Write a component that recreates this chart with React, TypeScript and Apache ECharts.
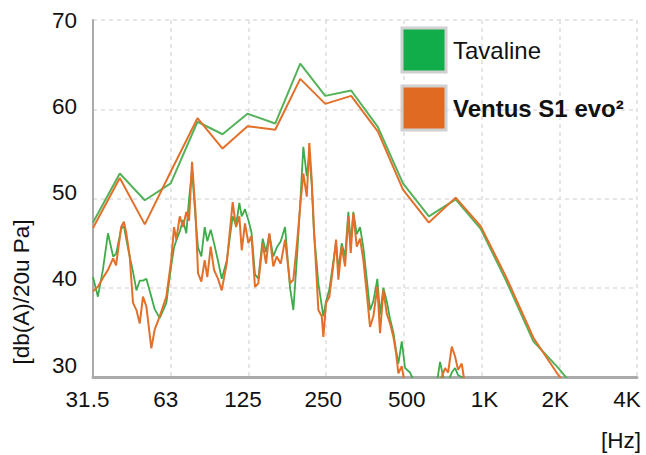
import React, { useEffect, useRef } from "react";
import * as echarts from "echarts";

// 1/3-octave band levels
const bandFreqs = [31.5, 40, 50, 63, 80, 100, 125, 160, 200, 250, 315, 400, 500, 630, 800, 1000, 1250, 1600, 2000, 2500];
const bandTavaline = [47.3, 52.8, 49.8, 51.7, 58.6, 57.2, 59.5, 58.4, 65.1, 61.5, 62.1, 58.0, 51.7, 48.0, 49.9, 46.6, 40.9, 34.0, 31.0, 27.6];
const bandVentus = [46.7, 52.3, 47.1, 53.0, 59.0, 55.6, 58.1, 57.7, 63.4, 60.6, 61.5, 57.5, 51.0, 47.3, 50.1, 46.9, 41.3, 34.4, 30.2, 26.8];

// narrow-band spectrum
const narrowFreqs = [
  31.5, 32.9, 34.4, 36.0, 37.7, 38.7, 40.5, 41.5, 42.4, 43.7,
  45.0, 46.4, 47.8, 49.2, 50.7, 53.0, 54.6, 57.1, 60.6, 63.3,
  64.9, 66.2, 68.3, 70.3, 72.4, 74.2, 76.2, 78.5, 80.4, 82.8,
  85.3, 87.3, 90.0, 92.7, 96.1, 99.3, 103.8, 109.5, 112.8, 116.2,
  118.7, 122.2, 125.9, 129.5, 133.6, 137.6, 143.1, 147.4, 151.8, 157.3,
  162.2, 168.1, 174.7, 182.6, 188.1, 194.9, 200.9, 205.6, 212.0, 216.9,
  221.6, 226.2, 231.7, 235.1, 242.3, 245.8, 251.8, 259.3, 267.3, 275.3,
  281.0, 289.6, 298.3, 307.2, 313.8, 321.2, 331.1, 341.0, 351.2, 362.0,
  372.8, 384.0, 397.9, 407.6, 419.8, 432.7, 445.6, 459.0, 470.1, 479.9,
  494.7, 509.5, 532.7, 582.4, 665.8, 696.1, 727.9, 747.6, 772.7, 795.8,
  817.4, 844.8, 870.0, 909.7,
];
const narrowTavaline = [
  41.2, 39.0, 42.0, 46.1, 43.5, 43.8, 46.6, 46.9, 45.4, 43.5,
  41.8, 39.7, 40.8, 40.8, 41.0, 39.0, 37.6, 36.6, 38.3, 42.5,
  44.5, 45.3, 46.3, 47.6, 46.1, 50.0, 53.2, 48.0, 44.5, 43.5,
  46.8, 45.2, 46.5, 45.0, 43.0, 41.0, 43.0, 48.0, 47.0, 49.5,
  48.0, 48.8, 47.6, 46.2, 41.5, 41.0, 45.5, 44.0, 46.0, 43.5,
  44.5, 45.2, 46.8, 40.0, 37.5, 44.0, 50.5, 55.8, 52.5, 55.0,
  51.5, 46.0, 42.7, 40.5, 38.0, 36.8, 38.5, 39.8, 42.5, 45.0,
  42.0, 45.0, 43.5, 48.5, 45.0, 48.5, 46.0, 46.8, 44.5, 41.0,
  37.5, 38.5, 41.0, 37.0, 40.0, 38.5, 36.5, 35.0, 33.0, 31.5,
  34.0, 31.0, 30.5, 28.0, 28.0, 31.7, 29.0, 29.5, 30.5, 31.0,
  30.2, 30.0, 28.5, 28.0,
];
const narrowVentus = [
  39.6, 40.1, 41.1, 42.0, 43.3, 42.5, 46.8, 47.4, 46.1, 43.5,
  38.3, 37.5, 36.0, 39.0, 37.9, 33.2, 35.3, 36.8, 39.0, 43.1,
  46.8, 45.4, 48.0, 46.8, 48.5, 47.5, 54.1, 48.7, 41.6, 40.7,
  43.1, 41.2, 44.6, 42.0, 41.0, 39.7, 42.7, 49.6, 46.8, 48.0,
  44.2, 47.2, 45.0, 45.8, 40.1, 40.5, 45.0, 42.7, 46.1, 42.4,
  43.5, 42.7, 45.4, 40.5, 40.9, 45.4, 49.8, 52.8, 50.2, 56.2,
  52.1, 46.5, 40.9, 37.5, 36.8, 34.5, 38.3, 39.0, 42.0, 45.4,
  40.9, 44.6, 42.4, 48.0, 43.9, 48.3, 44.6, 45.5, 43.1, 39.4,
  35.6, 36.8, 40.1, 34.9, 39.7, 37.1, 36.0, 34.5, 32.7, 30.4,
  31.2, 29.0, 28.5, 27.5, 28.5, 29.5, 31.0, 30.5, 33.4, 32.3,
  30.8, 31.5, 29.0, 28.0,
];

const xTickLabels = ["31.5", "63", "125", "250", "500", "1K", "2K", "4K"];
const yTicks = [30, 40, 50, 60, 70];
const seriesNames = ["Tavaline", "Ventus S1 evo\u00B2"];

const FONT = "'Liberation Sans', Arial, Helvetica, sans-serif";
const BASE_HZ = 31.5;
const toOct = (f: number) => Math.log2(f / BASE_HZ);
const pairs = (fs: number[], vs: number[]) => fs.map((f, i) => [toOct(f), vs[i]]);

// small label nudges (style only)
const xShift = [-5.5, -5, -5.5, -3, 3, 3, -4, -10];
const yLift: Record<number, number> = { 30: 12, 40: 9, 50: 6.5, 60: 3, 70: 0 };

export default function App() {
  const ref = useRef<HTMLDivElement>(null);
  useEffect(() => {
    if (!ref.current) return;
    const chart = echarts.init(ref.current, undefined, { renderer: "svg" });
    const green = "#55b25a";
    const greenN = "#3fab4b";
    const orange = "#e2702a";
    const labelBase = { fontFamily: FONT, fontSize: 22.5, color: "#111" };
    const xRich: Record<string, any> = {};
    xShift.forEach((s, i) => {
      xRich["x" + i] = { ...labelBase, padding: s < 0 ? [0, -2 * s, 0, 0] : [0, 0, 0, 2 * s] };
    });
    const yRich: Record<string, any> = {};
    yTicks.forEach((t) => {
      yRich["y" + t] = { ...labelBase, padding: [0, 0, 2 * yLift[t], 0] };
    });
    const option: any = {
      animation: false,
      backgroundColor: "#fff",
      grid: { left: 93, right: 9, top: 20, bottom: 78 },
      xAxis: {
        type: "value",
        min: 0,
        max: 7,
        interval: 1,
        axisLine: { show: true, onZero: false, lineStyle: { color: "#aaaaaa", width: 3 } },
        axisTick: { show: false },
        axisLabel: {
          margin: 11,
          showMaxLabel: true,
          showMinLabel: true,
          formatter: (v: number) => {
            const i = Math.round(v);
            return `{x${i}|${xTickLabels[i] ?? ""}}`;
          },
          rich: xRich,
        },
        splitLine: { show: true, lineStyle: { color: "#dddddd", width: 1.5, type: [4, 4] } },
      },
      yAxis: {
        type: "value",
        min: 30,
        max: 70,
        interval: 10,
        axisLine: { show: true, lineStyle: { color: "#aaaaaa", width: 2 } },
        axisTick: { show: false },
        axisLabel: {
          margin: 16,
          formatter: (v: number) => `{y${v}|${v}}`,
          rich: yRich,
        },
        splitLine: { show: true, lineStyle: { color: "#dddddd", width: 1.5, type: [4, 4] } },
      },
      legend: {
        orient: "vertical",
        left: 395.5,
        top: 21.5,
        itemWidth: 44,
        itemHeight: 44,
        itemGap: 11,
        icon: "rect",
        selectedMode: false,
        textStyle: { fontFamily: FONT, fontSize: 24, color: "#111", padding: [0, 0, 0, 2] },
        data: [
          { name: seriesNames[0], itemStyle: { color: "#12ad4b", borderColor: "#d0d0d0", borderWidth: 3 } },
          {
            name: seriesNames[1],
            itemStyle: { color: "#e06a22", borderColor: "#d0d0d0", borderWidth: 3 },
            textStyle: { fontWeight: "bold" },
          },
        ],
      },
      series: [
        {
          name: seriesNames[0],
          type: "line",
          data: pairs(narrowFreqs, narrowTavaline),
          showSymbol: false,
          symbol: "none",
          clip: true,
          lineStyle: { color: greenN, width: 1.8 },
          itemStyle: { color: "#12ad4b" },
        },
        {
          name: seriesNames[1],
          type: "line",
          data: pairs(narrowFreqs, narrowVentus),
          showSymbol: false,
          symbol: "none",
          clip: true,
          lineStyle: { color: orange, width: 2 },
          itemStyle: { color: "#e06a22" },
        },
        {
          name: seriesNames[0],
          type: "line",
          data: pairs(bandFreqs, bandTavaline),
          showSymbol: false,
          symbol: "none",
          clip: true,
          lineStyle: { color: green, width: 2 },
          itemStyle: { color: "#12ad4b" },
        },
        {
          name: seriesNames[1],
          type: "line",
          data: pairs(bandFreqs, bandVentus),
          showSymbol: false,
          symbol: "none",
          clip: true,
          lineStyle: { color: orange, width: 2 },
          itemStyle: { color: "#e06a22" },
        },
      ],
      graphic: [
        {
          type: "text",
          x: 21,
          y: 292,
          rotation: Math.PI / 2,
          style: {
            text: "[db(A)/20u Pa]",
            fontFamily: FONT,
            fontSize: 22.5,
            fill: "#111",
            align: "center",
            verticalAlign: "middle",
          },
        },
        {
          type: "text",
          x: 641,
          y: 440,
          style: {
            text: "[Hz]",
            fontFamily: FONT,
            fontSize: 22.5,
            fill: "#111",
            align: "right",
            verticalAlign: "middle",
          },
        },
      ],
    };
    chart.setOption(option);
    return () => chart.dispose();
  }, []);
  return (
    <div
      ref={ref}
      style={{ position: "fixed", left: 0, top: 0, width: 646, height: 455, background: "#fff" }}
    />
  );
}
